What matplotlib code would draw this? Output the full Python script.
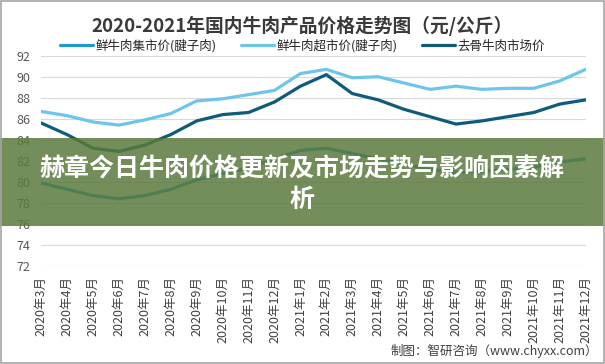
import matplotlib.pyplot as plt
from matplotlib.patches import Rectangle

plt.rcParams['font.family'] = ['Noto Sans CJK SC', 'DejaVu Sans']

months = ['2020年3月', '2020年4月', '2020年5月', '2020年6月', '2020年7月', '2020年8月',
          '2020年9月', '2020年10月', '2020年11月', '2020年12月', '2021年1月', '2021年2月',
          '2021年3月', '2021年4月', '2021年5月', '2021年6月', '2021年7月', '2021年8月',
          '2021年9月', '2021年10月', '2021年11月', '2021年12月']

# 鲜牛肉集市价(腱子肉)
bazaar = [79.9, 79.3, 78.7, 78.4, 78.7, 79.3, 80.2, 80.8, 81.3, 82.2, 83.0, 83.2,
          82.7, 82.2, 81.7, 81.2, 80.9, 81.0, 81.2, 81.4, 81.9, 82.2]
# 鲜牛肉超市价(腱子肉)
supermarket = [86.7, 86.3, 85.7, 85.4, 85.9, 86.5, 87.7, 87.9, 88.3, 88.7, 90.3, 90.7,
               89.9, 90.0, 89.4, 88.8, 89.1, 88.8, 88.9, 88.9, 89.6, 90.7]
# 去骨牛肉市场价
boneless = [85.6, 84.5, 83.2, 82.9, 83.5, 84.5, 85.8, 86.4, 86.6, 87.6, 89.1, 90.2,
            88.4, 87.8, 86.9, 86.2, 85.5, 85.8, 86.2, 86.6, 87.4, 87.8]

names = ['鲜牛肉集市价(腱子肉)', '鲜牛肉超市价(腱子肉)', '去骨牛肉市场价']
colors = ['#1F9AC9', '#6DC6EA', '#0F5C7A']

fig = plt.figure(figsize=(6.05, 3.64), dpi=100)
ax = fig.add_axes([0.068, 0.269, 0.9, 0.578])

x = list(range(len(months)))
ax.plot(x, bazaar, color=colors[0], lw=2.3, label=names[0], solid_capstyle='round')
ax.plot(x, supermarket, color=colors[1], lw=2.3, label=names[1], solid_capstyle='round')
ax.plot(x, boneless, color=colors[2], lw=2.3, label=names[2], solid_capstyle='round')

ax.set_ylim(72, 92)
ax.set_yticks(range(72, 93, 2))
ax.set_xlim(0, 21)
ax.set_xticks(x)
ax.set_xticklabels(months, rotation=90, fontsize=9, color='#404040')
ax.tick_params(axis='y', labelsize=9, labelcolor='#595959', length=0, pad=8)
ax.tick_params(axis='x', length=0, pad=7)
ax.grid(axis='y', color='#D9D9D9', lw=0.8)
ax.set_axisbelow(True)
for s in ax.spines.values():
    s.set_visible(False)

fig.text(0.5, 0.928, '2020-2021年国内牛肉产品价格走势图（元/公斤）', ha='center', va='center',
         fontsize=13.5, fontweight='bold', color='#3A3A3A')

fig.legend(loc='center', bbox_to_anchor=(0.5, 0.874), ncol=3, frameon=False,
           fontsize=9, handlelength=2.6, columnspacing=2.0, handletextpad=0.2,
           labelcolor='#262626')

fig.text(0.988, 0.037, '制图：智研咨询（www.chyxx.com）', ha='right', va='center',
         fontsize=9, color='#404040')

# green banner over the middle
fig.patches.append(Rectangle((0, 1 - 226 / 364), 1, 88 / 364, transform=fig.transFigure,
                             facecolor='#58793A', alpha=0.84, edgecolor='none', zorder=5))
fig.text(0.5, 0.533, '赫章今日牛肉价格更新及市场走势与影响因素解', ha='center', va='center',
         fontsize=18, fontweight='bold', color='white', zorder=6)
fig.text(0.5, 0.45, '析', ha='center', va='center',
         fontsize=18, fontweight='bold', color='white', zorder=6)

fig.patches.append(Rectangle((0.001, 0.002), 0.997, 0.996, transform=fig.transFigure,
                             facecolor='none', edgecolor='#A6A6A6', lw=1.2, zorder=7))

fig.savefig('out.png', dpi=100)
